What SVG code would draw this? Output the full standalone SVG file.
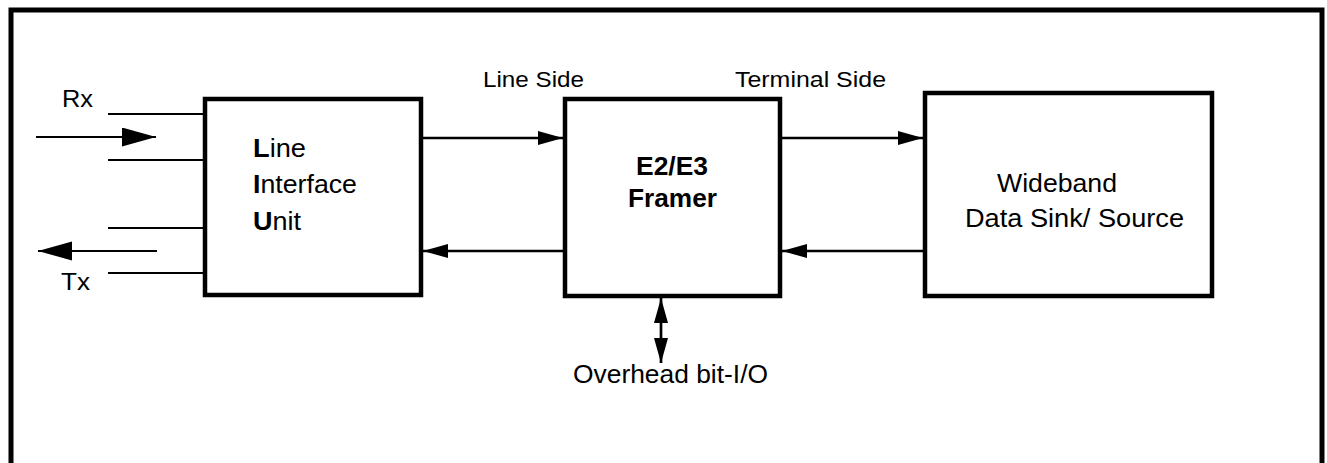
<svg xmlns="http://www.w3.org/2000/svg" width="1327" height="463" viewBox="0 0 1327 463">
<style>
text{font-family:"Liberation Sans",Arial,sans-serif;fill:#000}
.box{fill:#fff;stroke:#000;stroke-width:4.5}
.c{stroke:#000;stroke-width:2.7;fill:none}
.t{stroke:#000;stroke-width:2;fill:none}
.b{font-weight:bold}
</style>
<defs>
<marker id="ah" markerUnits="userSpaceOnUse" markerWidth="26" markerHeight="16" refX="25" refY="7" orient="auto"><path d="M0,0 L25,7 L0,14 Z" fill="#000"/></marker>
<marker id="ahs" markerUnits="userSpaceOnUse" markerWidth="26" markerHeight="16" refX="0" refY="7" orient="auto"><path d="M25,0 L0,7 L25,14 Z" fill="#000"/></marker>
<marker id="big" markerUnits="userSpaceOnUse" markerWidth="36" markerHeight="20" refX="34" refY="9.5" orient="auto"><path d="M0,0 L34,9.5 L0,19 Z" fill="#000"/></marker>
</defs>
<path d="M11,463 V10 H1322 V463" fill="none" stroke="#000" stroke-width="5"/>
<g id="connectors">
<line class="t" x1="108" y1="114" x2="205" y2="114"/>
<line class="t" x1="108" y1="160" x2="205" y2="160"/>
<line class="t" x1="108" y1="228" x2="205" y2="228"/>
<line class="t" x1="108" y1="273" x2="205" y2="273"/>
<line class="t" x1="36" y1="137" x2="156" y2="137" marker-end="url(#big)"/>
<line class="t" x1="157" y1="251" x2="38" y2="251" marker-end="url(#big)"/>
<line class="c" x1="423" y1="138" x2="563" y2="138" marker-end="url(#ah)"/>
<line class="c" x1="563" y1="251" x2="423" y2="251" marker-end="url(#ah)"/>
<line class="c" x1="782" y1="138" x2="923" y2="138" marker-end="url(#ah)"/>
<line class="c" x1="923" y1="251" x2="782" y2="251" marker-end="url(#ah)"/>
<line class="c" x1="661" y1="298" x2="661" y2="363" marker-start="url(#ahs)" marker-end="url(#ah)"/>
</g>
<g id="labels">
<text x="62" y="107" font-size="24" textLength="31" lengthAdjust="spacingAndGlyphs">Rx</text>
<text x="61" y="290" font-size="24" textLength="29" lengthAdjust="spacingAndGlyphs">Tx</text>
<text x="483" y="87" font-size="22.5" textLength="101" lengthAdjust="spacingAndGlyphs">Line Side</text>
<text x="735" y="87" font-size="22.5" textLength="151" lengthAdjust="spacingAndGlyphs">Terminal Side</text>
<text x="573" y="383" font-size="26" textLength="195" lengthAdjust="spacingAndGlyphs">Overhead bit-I/O</text>
</g>
<g id="liu">
<rect class="box" x="205" y="99" width="216" height="196"/>
<text x="253" y="157" font-size="25" textLength="53" lengthAdjust="spacingAndGlyphs"><tspan class="b">L</tspan>ine</text>
<text x="253" y="193" font-size="25" textLength="104" lengthAdjust="spacingAndGlyphs"><tspan class="b">I</tspan>nterface</text>
<text x="253" y="230" font-size="25" textLength="48" lengthAdjust="spacingAndGlyphs"><tspan class="b">U</tspan>nit</text>
</g>
<g id="framer">
<rect class="box" x="565" y="99" width="215" height="197"/>
<text x="636" y="175" font-size="25" class="b" textLength="72" lengthAdjust="spacingAndGlyphs">E2/E3</text>
<text x="628" y="207" font-size="25" class="b" textLength="89" lengthAdjust="spacingAndGlyphs">Framer</text>
</g>
<g id="sink">
<rect class="box" x="925" y="93" width="287" height="203"/>
<text x="997" y="192" font-size="25" textLength="120" lengthAdjust="spacingAndGlyphs">Wideband</text>
<text x="965" y="227" font-size="25" textLength="219" lengthAdjust="spacingAndGlyphs">Data Sink/ Source</text>
</g>
</svg>
